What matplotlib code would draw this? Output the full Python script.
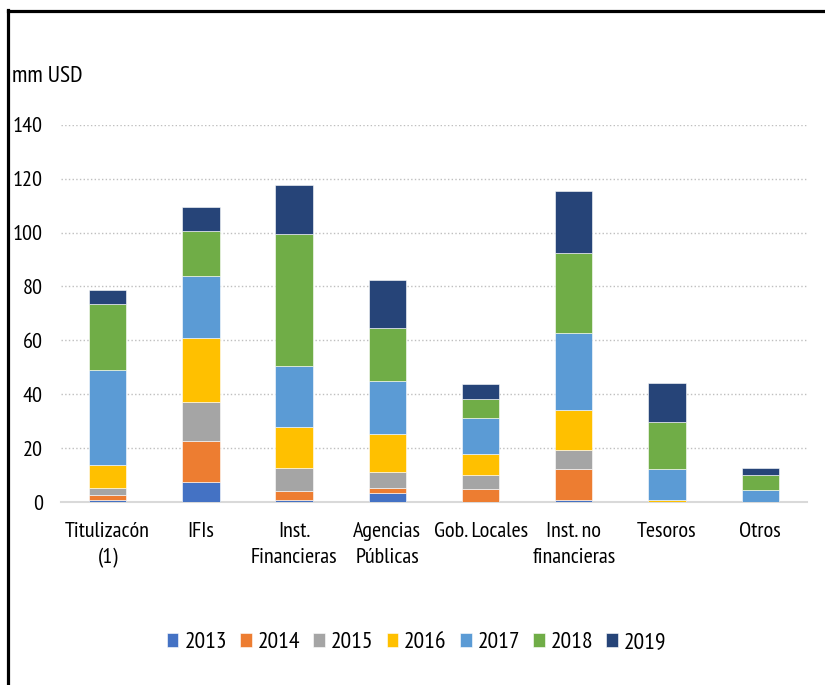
import numpy as np
import matplotlib.pyplot as plt
from matplotlib.lines import Line2D

plt.rcParams['font.family'] = ['PT Sans Narrow', 'DejaVu Sans']

categories = ['Titulizacón\n(1)', 'IFIs', 'Inst.\nFinancieras', 'Agencias\nPúblicas',
              'Gob. Locales', 'Inst. no\nfinancieras', 'Tesoros', 'Otros']
years = ['2013', '2014', '2015', '2016', '2017', '2018', '2019']

v2013 = [0.6, 7.3, 0.8, 3.5, 0.0, 0.8, 0.0, 0.0]
v2014 = [2.2, 15.2, 3.3, 1.6, 4.7, 11.3, 0.0, 0.0]
v2015 = [2.4, 14.8, 8.7, 6.1, 5.3, 7.2, 0.0, 0.0]
v2016 = [8.4, 23.5, 15.2, 14.1, 7.7, 14.9, 0.6, 0.0]
v2017 = [35.5, 23.0, 22.3, 19.6, 13.4, 28.7, 11.5, 4.4]
v2018 = [24.5, 16.6, 49.3, 19.8, 7.3, 29.5, 17.5, 5.5]
v2019 = [5.0, 8.9, 18.1, 17.5, 5.5, 23.1, 14.7, 2.8]

series = [v2013, v2014, v2015, v2016, v2017, v2018, v2019]
colors = ['#4472C4', '#ED7D31', '#A5A5A5', '#FFC000', '#5B9BD5', '#70AD47', '#264478']

fs = 16

fig = plt.figure(figsize=(8.25, 6.85), dpi=100)
ax = fig.add_axes([0.074, 0.267, 0.904, 0.551])

x = np.arange(len(categories))
bottom = np.zeros(len(categories))
for vals, col, yr in zip(series, colors, years):
    ax.bar(x, vals, 0.4, bottom=bottom, color=col, label=yr,
           edgecolor='white', linewidth=0.4, zorder=3)
    bottom += np.array(vals)

ax.set_xlim(-0.5, len(categories) - 0.5)
ax.set_ylim(0, 140)
ax.set_yticks(range(0, 141, 20))
ax.set_xticks(x)
ax.set_xticklabels(categories, fontsize=fs, linespacing=1.5)
ax.tick_params(axis='y', length=0, pad=13, labelsize=fs)
ax.tick_params(axis='x', length=0, pad=14)
for s in ['top', 'right', 'left']:
    ax.spines[s].set_visible(False)
ax.spines['bottom'].set_color('#d9d9d9')
ax.spines['bottom'].set_linewidth(1.5)
ax.grid(axis='y', color='#bfbfbf', linestyle=':', linewidth=1.0, zorder=0)

fig.text(12 / 825, 1 - 77 / 685, 'mm USD', fontsize=fs + 1, va='center', ha='left')

fig.legend(loc='center', bbox_to_anchor=(0.505, 1 - 643 / 685), ncol=7, frameon=False,
           fontsize=fs + 1, handlelength=0.5, handleheight=0.5, handletextpad=0.25,
           columnspacing=0.55)

# black frame (left and top edges visible)
fig.add_artist(Line2D([8 / 825, 8 / 825], [0, 1 - 10 / 685], color='black', lw=2.3,
                      transform=fig.transFigure))
fig.add_artist(Line2D([8 / 825, 1], [1 - 10.5 / 685, 1 - 10.5 / 685], color='black', lw=2.3,
                      transform=fig.transFigure))

fig.savefig('out.png', dpi=100)
